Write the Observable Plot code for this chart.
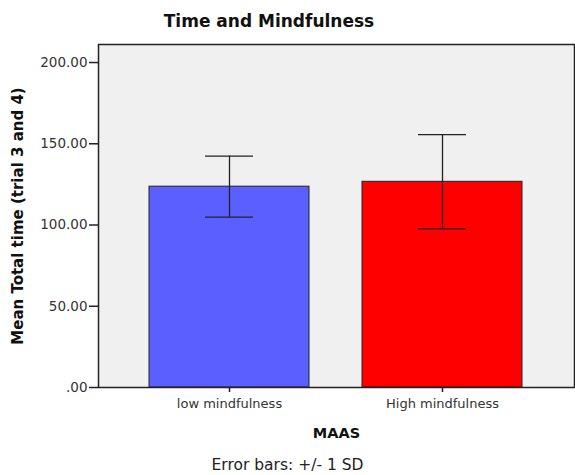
<!DOCTYPE html>
<html>
<head>
<meta charset="utf-8">
<script src="https://cdn.jsdelivr.net/npm/d3@7"></script>
<script src="https://cdn.jsdelivr.net/npm/@observablehq/plot@0.6"></script>
<style>
  body { margin: 0; background: #fff; font-family: "DejaVu Sans", sans-serif; }
  #wrap { position: relative; width: 575px; height: 475px; }
  #title { position: absolute; left: 0; top: 11px; width: 538px; text-align: center; font-size: 17px; font-weight: bold; color: #111; }
  #chart { position: absolute; left: 0; top: 40px; }
  #caption { position: absolute; left: 0; top: 456px; width: 575px; text-align: center; font-size: 15.5px; color: #222; }
  #chart svg [aria-label="x-axis label"] text { font-weight: bold; font-size: 14.5px; fill: #111; }
</style>
</head>
<body>
<div id="wrap">
  <div id="title">Time and Mindfulness</div>
  <div id="chart"></div>
  <div id="caption">Error bars: +/- 1 SD</div>
</div>
<script>
const groups = ["low mindfulness", "High mindfulness"];
const means = [123.6, 126.6];
const sds = [18.8, 29.0];
const barColors = ["#5b5fff", "#ff0000"];
const yTicks = [0, 50, 100, 150, 200];
const yLabel = "Mean Total time (trial 3 and 4)";
const xLabel = "MAAS";

const data = groups.map((g, i) => ({group: g, mean: means[i], lo: means[i] - sds[i], hi: means[i] + sds[i], color: barColors[i]}));

const plot = Plot.plot({
  width: 575,
  height: 400,
  marginTop: 4,
  marginBottom: 53,
  marginLeft: 98,
  marginRight: 1,
  style: {fontFamily: "DejaVu Sans, sans-serif", fontSize: "12px", color: "#333", background: "transparent"},
  x: {domain: groups, paddingInner: 0.248, paddingOuter: 0.238},
  y: {domain: [0, 211.1]},
  marks: [
    Plot.frame({fill: "#f0f0f0"}),
    Plot.barY(data, {x: "group", y: "mean", fill: "color", stroke: "#222", strokeWidth: 1}),
    Plot.ruleX(data, {x: "group", y1: "lo", y2: "hi", stroke: "#222", strokeWidth: 1.3}),
    Plot.tickY(data, {x: "group", y: "hi", stroke: "#222", strokeWidth: 1.3, insetLeft: 56, insetRight: 56}),
    Plot.tickY(data, {x: "group", y: "lo", stroke: "#222", strokeWidth: 1.3, insetLeft: 56, insetRight: 56}),
    Plot.axisY({ticks: yTicks, tickSize: 9, tickPadding: 2, tickFormat: d => d === 0 ? ".00" : d.toFixed(2), fontSize: 13.5, label: null, stroke: "#222", strokeWidth: 1.5}),
    Plot.text([yLabel], {frameAnchor: "left", textAnchor: "middle", rotate: -90, dx: -80, fontWeight: "bold", fontSize: 15, fill: "#111"}),
    Plot.axisX({tickSize: 5, tickPadding: 6, fontSize: 13, label: xLabel, labelAnchor: "center", labelOffset: 50, stroke: "#222", strokeWidth: 1.5}),
    Plot.frame({stroke: "#222", strokeWidth: 1.5})
  ]
});
document.getElementById("chart").appendChild(plot);
</script>
</body>
</html>
